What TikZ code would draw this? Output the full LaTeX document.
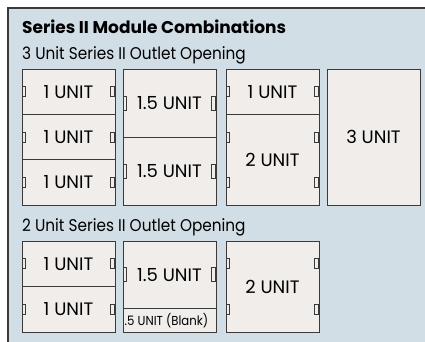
\documentclass[tikz,border=0pt]{standalone}
\usepackage{fontspec}
\setmainfont{Poppins}
\newfontfamily\txt[FakeStretch=0.9]{Poppins}
\newfontfamily\txtu{Poppins}
\newfontfamily\txts[FakeStretch=0.9]{Poppins}
\newfontfamily\txtb{Poppins Bold}
\definecolor{panel}{HTML}{D2DEE5}
\definecolor{boxfill}{HTML}{F0EDEA}
\definecolor{edge}{HTML}{3A3A3A}
\tikzset{
  box/.style={draw=edge, fill=boxfill, line width=0.9pt, inner sep=0pt, outer sep=0pt,
    anchor=north west, minimum width=93pt, font=\txtu\fontsize{18}{18}\selectfont, text=black},
  tab/.style={draw=edge, fill=boxfill, line width=0.7pt, inner sep=0pt, outer sep=0pt,
    minimum width=3.5pt, minimum height=10pt},
  tabL/.style={tab, minimum height=14pt},
  lbl/.style={anchor=base west, inner sep=0pt, font=\txt\fontsize{17}{17}\selectfont},
}
\begin{document}
\begin{tikzpicture}[x=1pt,y=-1pt]
\useasboundingbox (0,0) rectangle (425,342);
\fill[white] (0,0) rectangle (425,342);
\fill[panel] (8,8) rectangle (425,342);
\draw[edge, line width=1.4pt] (8,342) -- (8,8) -- (425,8);
\node[anchor=base west, inner sep=0pt, font=\txtb\fontsize{17}{17}\selectfont] (title) at (22,33.3) {Series II Module Combinations};
\node[lbl] (sub3) at (22,59.3) {3 Unit Series II Outlet Opening};
\node[lbl] (sub2) at (22,231) {2 Unit Series II Outlet Opening};
% row 1, column 1
\node[box, minimum height=45.33pt] (a1) at (22,69) {1 UNIT};
\node[box, minimum height=45.33pt] (a2) at (22,114.33) {1 UNIT};
\node[box, minimum height=45.33pt] (a3) at (22,159.67) {1 UNIT};
% column 2
\node[box, minimum height=68pt] (b1) at (123,69) {1.5 UNIT};
\node[box, minimum height=68pt] (b2) at (123,137) {1.5 UNIT};
% column 3
\node[box, minimum height=45.33pt] (c1) at (226,69) {1 UNIT};
\node[box, minimum height=90.67pt] (c2) at (226,114.33) {2 UNIT};
% column 4
\node[box, minimum height=136pt] (d1) at (327,69) {3 UNIT};
% row 2
\node[box, minimum height=45.5pt] (e1) at (22,241) {1 UNIT};
\node[box, minimum height=45.5pt] (e2) at (22,286.5) {1 UNIT};
\node[box, minimum height=67.5pt] (f1) at (123,241) {1.5 UNIT};
\node[box, minimum height=23.5pt] (f2) at (123,308.5) {};
\node[anchor=west, inner sep=0pt, font=\txts\fontsize{13}{13}\selectfont] (f2t) at ([xshift=1.5pt]f2.west) {.5 UNIT (Blank)};
\node[box, minimum height=91pt] (g1) at (226,241) {2 UNIT};
% tabs
\foreach \n in {a1,a2,a3,c1,e1,e2}{
  \node[tab] at ([xshift=2pt]\n.west) {};
  \node[tab] at ([xshift=-2.5pt]\n.east) {};
}
\foreach \n in {b1,b2,f1}{
  \node[tabL] at ([xshift=2pt]\n.west) {};
  \node[tabL] at ([xshift=-2.5pt]\n.east) {};
}
\node[tab] at ([xshift=2pt,yshift=-22.7pt]c2.north west) {};
\node[tab] at ([xshift=-2.5pt,yshift=-22.7pt]c2.north east) {};
\node[tab] at ([xshift=2pt,yshift=22.7pt]c2.south west) {};
\node[tab] at ([xshift=-2.5pt,yshift=22.7pt]c2.south east) {};
\node[tab] at ([xshift=2pt,yshift=-22.75pt]g1.north west) {};
\node[tab] at ([xshift=-2.5pt,yshift=-22.75pt]g1.north east) {};
\node[tab] at ([xshift=2pt,yshift=22.75pt]g1.south west) {};
\node[tab] at ([xshift=-2.5pt,yshift=22.75pt]g1.south east) {};
\end{tikzpicture}
\end{document}
